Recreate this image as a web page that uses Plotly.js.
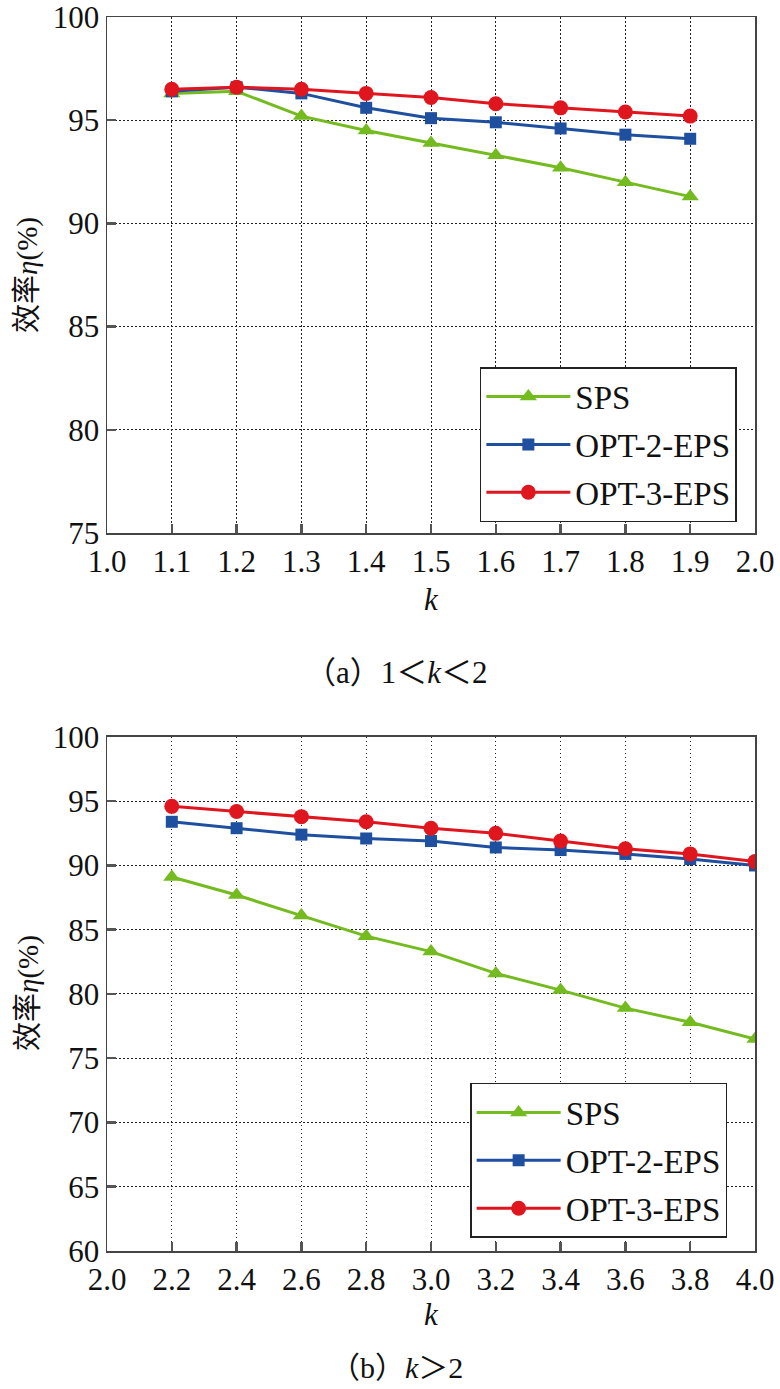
<!DOCTYPE html>
<html>
<head>
<meta charset="utf-8">
<script src="https://cdn.plot.ly/plotly-3.0.1.min.js"></script>
<style>
  html, body { margin: 0; padding: 0; background: #fff; }
  #chart { width: 780px; height: 1389px; }
</style>
</head>
<body>
<div id="chart"></div>
<script>
// (a) 1 < k < 2
var kA = [1.1, 1.2, 1.3, 1.4, 1.5, 1.6, 1.7, 1.8, 1.9];
var spsA = [96.3, 96.4, 95.2, 94.5, 93.9, 93.3, 92.7, 92.0, 91.3];
var opt2A = [96.4, 96.6, 96.3, 95.6, 95.1, 94.9, 94.6, 94.3, 94.1];
var opt3A = [96.5, 96.6, 96.5, 96.3, 96.1, 95.8, 95.6, 95.4, 95.2];

// (b) k > 2
var kB = [2.2, 2.4, 2.6, 2.8, 3.0, 3.2, 3.4, 3.6, 3.8, 4.0];
var spsB = [89.1, 87.7, 86.1, 84.5, 83.3, 81.6, 80.3, 78.9, 77.8, 76.5];
var opt2B = [93.4, 92.9, 92.4, 92.1, 91.9, 91.4, 91.2, 90.9, 90.5, 90.0];
var opt3B = [94.6, 94.2, 93.8, 93.4, 92.9, 92.5, 91.9, 91.3, 90.9, 90.3];

var seriesNames = ['SPS', 'OPT-2-EPS', 'OPT-3-EPS'];
var colors = ['#74bb1f', '#1f4f9f', '#e0161f'];
var symbols = ['triangle-up', 'square', 'circle'];
var sizes = [15, 12, 15];

var serif = '"Liberation Serif", "Times New Roman", "Noto Sans CJK SC", serif';

function makeTrace(x, y, i, xa, ya, leg) {
    return {
        x: x, y: y, xaxis: xa, yaxis: ya,
        name: seriesNames[i], legend: leg, legendgroup: leg + i,
        type: 'scatter', mode: 'lines+markers',
        line: { color: colors[i], width: 3 },
        marker: { color: colors[i], symbol: symbols[i], size: sizes[i] }
    };
}

var data = [
    makeTrace(kA, spsA, 0, 'x', 'y', 'legend'),
    makeTrace(kA, opt2A, 1, 'x', 'y', 'legend'),
    makeTrace(kA, opt3A, 2, 'x', 'y', 'legend'),
    makeTrace(kB, spsB, 0, 'x2', 'y2', 'legend2'),
    makeTrace(kB, opt2B, 1, 'x2', 'y2', 'legend2'),
    makeTrace(kB, opt3B, 2, 'x2', 'y2', 'legend2')
];

function axisStyle(extra) {
    var base = {
        showline: true, mirror: true, linecolor: '#444', linewidth: 1.5,
        ticks: 'inside', ticklen: 9, tickwidth: 2.5, tickcolor: '#555',
        showgrid: true, gridcolor: '#222', gridwidth: 1, griddash: '1.5px,2.5px',
        zeroline: false, fixedrange: true, ticklabeloverflow: 'allow',
        tickfont: { family: serif, size: 31, color: '#111' }
    };
    for (var key in extra) base[key] = extra[key];
    return base;
}

var legendStyle = {
    font: { family: serif, size: 33, color: '#111' },
    bgcolor: '#fff', bordercolor: '#222', borderwidth: 1.5,
    xanchor: 'right', yanchor: 'top',
    itemwidth: 84, tracegroupgap: 2
};

var textFont = { family: serif, size: 31, color: '#111' };
var yTitleFont = { family: serif, size: 29, color: '#111' };

var layout = {
    width: 780, height: 1389,
    margin: { l: 107, r: 25, t: 0, b: 138 },
    paper_bgcolor: '#fff', plot_bgcolor: '#fff',
    showlegend: true,
    xaxis: axisStyle({ domain: [0, 1], range: [1.0, 2.0], dtick: 0.1, tick0: 1.0, tickformat: '.1f', anchor: 'y' }),
    yaxis: axisStyle({ domain: [0.5739, 0.9864], range: [75, 100], dtick: 5, anchor: 'x' }),
    xaxis2: axisStyle({ domain: [0, 1], range: [2.0, 4.0], dtick: 0.2, tick0: 2.0, tickformat: '.1f', anchor: 'y2' }),
    yaxis2: axisStyle({ domain: [0, 0.4109], range: [60, 100], dtick: 5, anchor: 'x2' }),
    legend: Object.assign({ x: 0.972, y: 0.7066 }, legendStyle),
    legend2: Object.assign({ x: 0.957, y: 0.1343 }, legendStyle),
    annotations: [
        { text: '<i>k</i>', xref: 'paper', yref: 'paper', x: 0.5, y: 0.5204, yanchor: 'middle', showarrow: false, font: textFont },
        { text: '<i>k</i>', xref: 'paper', yref: 'paper', x: 0.5, y: -0.0504, yanchor: 'middle', showarrow: false, font: textFont },
        { text: '效率<i>η</i>(%)', xref: 'paper', yref: 'paper', x: -0.122, y: 0.7802, xanchor: 'center', yanchor: 'middle',
          textangle: -90, showarrow: false, font: yTitleFont },
        { text: '效率<i>η</i>(%)', xref: 'paper', yref: 'paper', x: -0.122, y: 0.2062, xanchor: 'center', yanchor: 'middle',
          textangle: -90, showarrow: false, font: yTitleFont },
        { text: '（a）1＜<i>k</i>＜2', xref: 'paper', yref: 'paper', x: 0.4475, y: 0.4628, yanchor: 'middle', showarrow: false, font: textFont },
        { text: '（b）<i>k</i>＞2', xref: 'paper', yref: 'paper', x: 0.446, y: -0.0935, yanchor: 'middle', showarrow: false,
          font: { family: serif, size: 30, color: '#111' } }
    ]
};

Plotly.newPlot('chart', data, layout, { displayModeBar: false, staticPlot: true });
</script>
</body>
</html>
